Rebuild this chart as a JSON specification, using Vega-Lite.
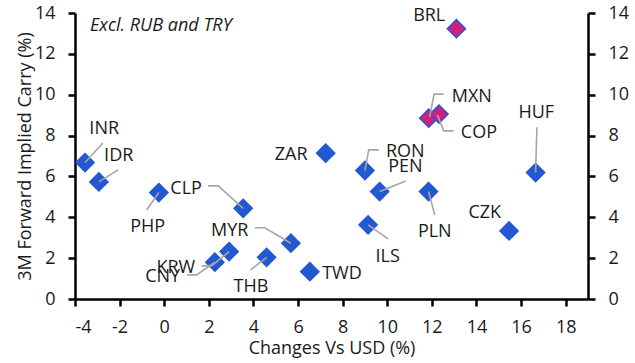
{
  "$schema": "https://vega.github.io/schema/vega-lite/v6.json",
  "width": 513,
  "height": 286,
  "autosize": {"type": "none"},
  "padding": {"left": 75, "top": 13, "right": 47, "bottom": 64},
  "background": "white",
  "config": {
    "view": {"stroke": null},
    "font": "Open Sans",
    "axis": {
      "grid": false,
      "domainColor": "#000000",
      "domainWidth": 2.5,
      "tickColor": "#000000",
      "tickWidth": 2.5,
      "tickSize": 7,
      "labelFont": "Open Sans",
      "labelFontSize": 18,
      "labelColor": "#1a1a1a",
      "titleFont": "Open Sans",
      "titleFontSize": 18,
      "titleFontWeight": "normal",
      "titleColor": "#1a1a1a",
      "labelExpr": "'' + datum.value"
    }
  },
  "datasets": {
    "points": [
      {"ccy": "INR", "chg": -3.55, "carry": 6.68, "grp": "other", "lx": -2.69, "ly": 8.31},
      {"ccy": "IDR", "chg": -2.93, "carry": 5.73, "grp": "other", "lx": -2.04, "ly": 7.02},
      {"ccy": "PHP", "chg": -0.24, "carry": 5.21, "grp": "other", "lx": -0.74, "ly": 3.51},
      {"ccy": "CLP", "chg": 3.54, "carry": 4.44, "grp": "other", "lx": 0.98, "ly": 5.37},
      {"ccy": "MYR", "chg": 5.68, "carry": 2.73, "grp": "other", "lx": 2.94, "ly": 3.35},
      {"ccy": "KRW", "chg": 2.91, "carry": 2.32, "grp": "other", "lx": 0.52, "ly": 1.5},
      {"ccy": "CNY", "chg": 2.27, "carry": 1.8, "grp": "other", "lx": -0.07, "ly": 1.09},
      {"ccy": "THB", "chg": 4.59, "carry": 2.04, "grp": "other", "lx": 3.89, "ly": 0.6},
      {"ccy": "TWD", "chg": 6.53, "carry": 1.34, "grp": "other", "lx": 7.97, "ly": 1.22},
      {"ccy": "ZAR", "chg": 7.24, "carry": 7.14, "grp": "other", "lx": 5.69, "ly": 7.06},
      {"ccy": "RON", "chg": 9.0, "carry": 6.29, "grp": "other", "lx": 10.81, "ly": 7.22},
      {"ccy": "PEN", "chg": 9.66, "carry": 5.26, "grp": "other", "lx": 10.81, "ly": 6.48},
      {"ccy": "PLN", "chg": 11.85, "carry": 5.26, "grp": "other", "lx": 12.13, "ly": 3.3},
      {"ccy": "ILS", "chg": 9.14, "carry": 3.63, "grp": "other", "lx": 10.02, "ly": 2.04},
      {"ccy": "CZK", "chg": 15.46, "carry": 3.33, "grp": "other", "lx": 14.37, "ly": 4.23},
      {"ccy": "HUF", "chg": 16.65, "carry": 6.19, "grp": "other", "lx": 16.68, "ly": 9.1},
      {"ccy": "BRL", "chg": 13.1, "carry": 13.23, "grp": "latam", "lx": 11.88, "ly": 13.83},
      {"ccy": "MXN", "chg": 11.86, "carry": 8.85, "grp": "latam", "lx": 13.79, "ly": 9.88},
      {"ccy": "COP", "chg": 12.32, "carry": 9.05, "grp": "latam", "lx": 14.11, "ly": 8.15}
    ],
    "leaders": [
      {"ccy": "INR", "seq": 1, "x": -2.75, "y": 7.64},
      {"ccy": "INR", "seq": 2, "x": -3.55, "y": 6.68},
      {"ccy": "IDR", "seq": 1, "x": -2.07, "y": 6.32},
      {"ccy": "IDR", "seq": 2, "x": -2.93, "y": 5.73},
      {"ccy": "PHP", "seq": 1, "x": -0.79, "y": 4.36},
      {"ccy": "PHP", "seq": 2, "x": -0.24, "y": 5.21},
      {"ccy": "CLP", "seq": 1, "x": 1.97, "y": 5.54},
      {"ccy": "CLP", "seq": 2, "x": 2.42, "y": 5.54},
      {"ccy": "CLP", "seq": 3, "x": 3.54, "y": 4.44},
      {"ccy": "MYR", "seq": 1, "x": 4.06, "y": 3.49},
      {"ccy": "MYR", "seq": 2, "x": 4.51, "y": 3.49},
      {"ccy": "MYR", "seq": 3, "x": 5.68, "y": 2.73},
      {"ccy": "KRW", "seq": 1, "x": 1.68, "y": 1.62},
      {"ccy": "KRW", "seq": 2, "x": 2.12, "y": 1.62},
      {"ccy": "KRW", "seq": 3, "x": 2.91, "y": 2.32},
      {"ccy": "CNY", "seq": 1, "x": 1.03, "y": 1.18},
      {"ccy": "CNY", "seq": 2, "x": 1.45, "y": 1.18},
      {"ccy": "CNY", "seq": 3, "x": 2.27, "y": 1.8},
      {"ccy": "THB", "seq": 1, "x": 3.87, "y": 1.42},
      {"ccy": "THB", "seq": 2, "x": 4.59, "y": 2.04},
      {"ccy": "RON", "seq": 1, "x": 9.62, "y": 7.3},
      {"ccy": "RON", "seq": 2, "x": 9.17, "y": 7.3},
      {"ccy": "RON", "seq": 3, "x": 9.0, "y": 6.29},
      {"ccy": "PEN", "seq": 1, "x": 10.83, "y": 5.78},
      {"ccy": "PEN", "seq": 2, "x": 9.66, "y": 5.26},
      {"ccy": "PLN", "seq": 1, "x": 12.13, "y": 4.12},
      {"ccy": "PLN", "seq": 2, "x": 11.85, "y": 5.26},
      {"ccy": "ILS", "seq": 1, "x": 10.04, "y": 2.94},
      {"ccy": "ILS", "seq": 2, "x": 9.14, "y": 3.63},
      {"ccy": "HUF", "seq": 1, "x": 16.71, "y": 8.41},
      {"ccy": "HUF", "seq": 2, "x": 16.65, "y": 6.19},
      {"ccy": "MXN", "seq": 1, "x": 12.53, "y": 10.03},
      {"ccy": "MXN", "seq": 2, "x": 12.1, "y": 10.03},
      {"ccy": "MXN", "seq": 3, "x": 11.9, "y": 8.9},
      {"ccy": "COP", "seq": 1, "x": 12.98, "y": 8.23},
      {"ccy": "COP", "seq": 2, "x": 12.53, "y": 8.23},
      {"ccy": "COP", "seq": 3, "x": 12.25, "y": 9.0}
    ],
    "note": [
      {"text": "Excl. RUB and TRY", "x": -3.33, "y": 13.34}
    ]
  },
  "resolve": {"axis": {"y": "independent"}},
  "layer": [
    {
      "data": {"name": "points"},
      "mark": {"type": "point", "shape": "diamond", "filled": true, "size": 330, "opacity": 1, "strokeWidth": 1.5, "stroke": "#2258D1"},
      "encoding": {
        "x": {
          "field": "chg", "type": "quantitative",
          "scale": {"domain": [-4, 19], "nice": false, "zero": false},
          "axis": {"values": [-4, -2, 0, 2, 4, 6, 8, 10, 12, 14, 16, 18], "title": "Changes Vs USD (%)", "labelPadding": 12, "titlePadding": 3}
        },
        "y": {
          "field": "carry", "type": "quantitative",
          "scale": {"domain": [0, 14], "nice": false},
          "axis": {"orient": "left", "values": [0, 2, 4, 6, 8, 10, 12, 14], "title": "3M Forward Implied Carry (%)", "labelPadding": 13, "titlePadding": 0}
        },
        "fill": {
          "field": "grp", "type": "nominal",
          "scale": {"domain": ["other", "latam"], "range": ["#2258D1", "#D11F7C"]},
          "legend": null
        }
      }
    },
    {
      "data": {"name": "leaders"},
      "mark": {"type": "line", "color": "#A6A6A6", "strokeWidth": 1.6},
      "encoding": {
        "x": {"field": "x", "type": "quantitative"},
        "y": {
          "field": "y", "type": "quantitative",
          "axis": {"orient": "right", "values": [0, 2, 4, 6, 8, 10, 12, 14], "title": null, "labelPadding": 13}
        },
        "detail": {"field": "ccy"},
        "order": {"field": "seq"}
      }
    },
    {
      "data": {"name": "points"},
      "mark": {"type": "text", "font": "Open Sans", "fontSize": 18, "color": "#1a1a1a", "align": "center", "baseline": "middle"},
      "encoding": {
        "x": {"field": "lx", "type": "quantitative"},
        "y": {"field": "ly", "type": "quantitative", "axis": null},
        "text": {"field": "ccy"}
      }
    },
    {
      "data": {"name": "note"},
      "mark": {"type": "text", "font": "Open Sans", "fontSize": 18, "fontStyle": "italic", "color": "#1a1a1a", "align": "left", "baseline": "middle"},
      "encoding": {
        "x": {"field": "x", "type": "quantitative"},
        "y": {"field": "y", "type": "quantitative", "axis": null},
        "text": {"field": "text"}
      }
    }
  ]
}
